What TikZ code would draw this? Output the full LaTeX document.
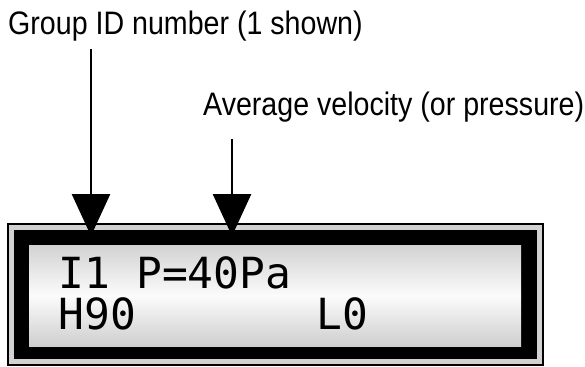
\documentclass[tikz,border=0pt]{standalone}
\usepackage{fontspec}
\setmainfont{Liberation Sans}[FakeStretch=0.88]
\newfontfamily\lcdfont{DejaVu Sans Mono}
\usetikzlibrary{arrows.meta, positioning}

\begin{document}
\begin{tikzpicture}[x=1pt, y=-1pt,
    lbl/.style={inner sep=0pt, anchor=base west, font=\fontsize{32.5}{34}\selectfont},
    ptr/.style={line width=2.8pt, -{Triangle[width=38pt, length=42pt]}},
    lcdrow/.style={inner sep=0pt, anchor=base west, font=\lcdfont\fontsize{42.9}{44}\selectfont}]
  \useasboundingbox (0,0) rectangle (585,366);
  % display frame
  \fill[black]   (7,223)  rectangle (544,366);
  \fill[gray!35] (9,225)  rectangle (542,364);
  \fill[black]   (14,230) rectangle (537,359);
  \shade[top color=gray!35, bottom color=gray!38, middle color=white!97!gray]
        (29,245) rectangle (521,346);
  % display text
  \node[lcdrow] (row1) at (58.5,288) {I1 P=40Pa};
  \node[lcdrow] (row2) at (58.5,329) {H90\ \ \ \ \ \ \ L0};
  % labels and pointers
  \node[lbl] (idlbl)  at (8,35)    {Group ID number (1 shown)};
  \node[lbl] (avglbl) at (203,116) {Average velocity (or pressure)};
  \coordinate (idtip)  at (91,236);
  \coordinate (avgtip) at (232,236);
  \draw[ptr, shorten <=7pt]  (idlbl.south -| idtip) -- (idtip);
  \draw[ptr, shorten <=16pt] (avglbl.south -| avgtip) -- (avgtip);
\end{tikzpicture}
\end{document}
